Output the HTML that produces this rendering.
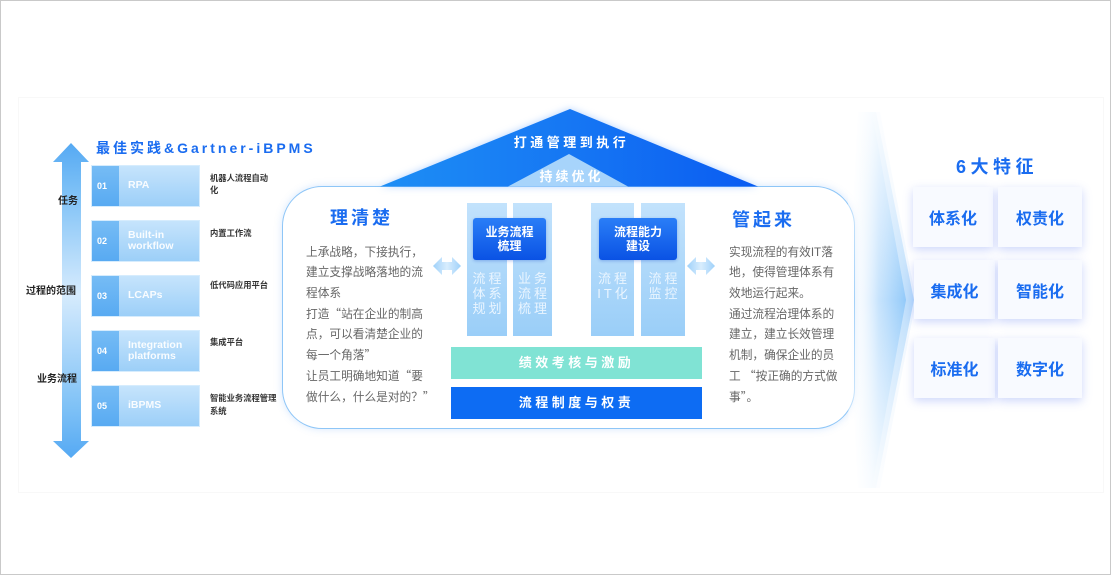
<!DOCTYPE html>
<html><head><meta charset="utf-8">
<style>
*{margin:0;padding:0;box-sizing:border-box}
html,body{width:1111px;height:575px;overflow:hidden;background:#fff}
body{position:relative;font-family:"Liberation Sans","Noto Sans CJK SC",sans-serif}
.abs{position:absolute}
.q{font-family:"Noto Sans CJK SC",sans-serif;line-height:0}
.frame{position:absolute;left:0;top:0;width:1111px;height:575px;border:1px solid #c9c9c9}
.slide{position:absolute;left:18px;top:97px;width:1086px;height:396px;border:1px solid #f8f8f8}
.title{position:absolute;left:96px;top:139px;font-size:14px;font-weight:bold;color:#1a6cf0;letter-spacing:3px;white-space:nowrap;line-height:18px}
.lbl{position:absolute;font-size:10px;font-weight:bold;color:#222;white-space:nowrap;line-height:12px;transform:translateX(-50%)}
.box{position:absolute;left:91px;width:109px;height:42px;background:linear-gradient(180deg,#c6e4fc,#9ccff8);border:1px solid #d6ecfd}
.box .num{position:absolute;left:0;top:0;width:27px;height:40px;background:linear-gradient(180deg,#76bcf5,#58aaf2);color:#fff;font-size:9px;font-weight:bold;padding-left:5px;line-height:40px}
.box .nm{position:absolute;left:36px;top:0;height:40px;display:flex;align-items:center;color:rgba(255,255,255,0.92);font-size:10.5px;font-weight:bold;line-height:11.5px}
.desc{position:absolute;left:210px;font-size:8.3px;font-weight:bold;color:#333;line-height:12px;white-space:nowrap}
.container{position:absolute;left:282px;top:186px;width:573px;height:243px;border:1px solid #8ec6f7;border-radius:40px;background:#fff;box-shadow:0 0 8px rgba(90,160,250,0.25)}
.hd{position:absolute;font-size:18px;font-weight:bold;color:#1a6cf0;letter-spacing:3px;line-height:22px;white-space:nowrap}
.body{position:absolute;font-size:11.7px;color:#666;line-height:20.7px;white-space:nowrap}
.pillar{position:absolute;top:203px;height:133px;background:linear-gradient(180deg,#c2e2fc,#9acef8)}
.ptxt{position:absolute;top:271px;height:48px;color:#eaf5ff;font-size:13px;line-height:15px;letter-spacing:3px;text-align:center;white-space:nowrap}
.dark{position:absolute;top:218px;height:42px;border-radius:3px;background:linear-gradient(180deg,#2a7ef7,#0a52e4);color:#fff;font-size:12px;font-weight:bold;line-height:14px;text-align:center;display:flex;align-items:center;justify-content:center;box-shadow:0 1px 3px rgba(0,60,200,0.3)}
.bar{position:absolute;left:451px;width:251px;height:32px;color:#fff;font-size:13px;font-weight:bold;letter-spacing:3.5px;text-align:center;line-height:32px;white-space:nowrap}
.card{position:absolute;background:#f8faff;box-shadow:0 3px 9px rgba(80,110,240,0.28);color:#1a6cf0;font-size:16px;font-weight:bold;display:flex;align-items:center;justify-content:center;white-space:nowrap}
</style></head><body>
<div class="frame"></div>
<div class="slide"></div>

<!-- vertical double arrow -->
<svg class="abs" style="left:0;top:0" width="120" height="470">
<defs><linearGradient id="va" x1="0" y1="143" x2="0" y2="458" gradientUnits="userSpaceOnUse">
<stop offset="0" stop-color="#55a9f3"/><stop offset="0.15" stop-color="#7cc0f6"/><stop offset="0.48" stop-color="#d6ebfd"/><stop offset="0.85" stop-color="#7cc0f6"/><stop offset="1" stop-color="#55a9f3"/></linearGradient></defs>
<polygon points="71,143 89,162 81,162 81,441 89,441 71,458 53,441 62,441 62,162 53,162" fill="url(#va)"/>
</svg>
<div class="lbl" style="left:68px;top:196px">任务</div>
<div class="lbl" style="left:51px;top:286px">过程的范围</div>
<div class="lbl" style="left:57px;top:374px">业务流程</div>

<div class="title">最佳实践&amp;Gartner-iBPMS</div>

<div class="box" style="top:165px"><div class="num">01</div><div class="nm">RPA</div></div>
<div class="box" style="top:220px"><div class="num">02</div><div class="nm">Built-in<br>workflow</div></div>
<div class="box" style="top:275px"><div class="num">03</div><div class="nm">LCAPs</div></div>
<div class="box" style="top:330px"><div class="num">04</div><div class="nm">Integration<br>platforms</div></div>
<div class="box" style="top:385px"><div class="num">05</div><div class="nm">iBPMS</div></div>

<div class="desc" style="top:172px">机器人流程自动<br>化</div>
<div class="desc" style="top:227px">内置工作流</div>
<div class="desc" style="top:279px">低代码应用平台</div>
<div class="desc" style="top:336px">集成平台</div>
<div class="desc" style="top:392px;line-height:13px">智能业务流程管理<br>系统</div>

<!-- main container -->
<div class="container"></div>

<!-- pyramid -->
<svg class="abs" style="left:0;top:0;filter:drop-shadow(0 0 4px rgba(40,130,255,0.35))" width="800" height="200">
<defs><linearGradient id="py" x1="380" y1="0" x2="758" y2="0" gradientUnits="userSpaceOnUse">
<stop offset="0" stop-color="#1d8ef5"/><stop offset="0.5" stop-color="#1677f3"/><stop offset="1" stop-color="#0a5cf2"/></linearGradient></defs>
<polygon points="570,109 758,186.5 380,186.5" fill="url(#py)"/>
<polygon points="569,154 628,186.5 508,186.5" fill="#a7d4fb"/>
</svg>
<div class="abs" style="left:470px;top:134px;width:200px;text-align:center;color:#fff;font-size:13px;font-weight:bold;letter-spacing:3.5px;line-height:18px;white-space:nowrap;padding-left:3px">打通管理到执行</div>
<div class="abs" style="left:500px;top:168px;width:140px;text-align:center;color:#fff;font-size:13px;font-weight:bold;letter-spacing:3px;line-height:18px;white-space:nowrap;padding-left:3px">持续优化</div>

<!-- left column -->
<div class="hd" style="left:330px;top:207px">理清楚</div>
<div class="body" style="left:306px;top:242.6px">上承战略，下接执行，<br>建立支撑战略落地的流<br>程体系<br>打造<span class="q">“</span>站在企业的制高<br>点，可以看清楚企业的<br>每一个角落<span class="q">”</span><br>让员工明确地知道<span class="q">“</span>要<br>做什么，什么是对的？<span class="q">”</span></div>

<!-- right column -->
<div class="hd" style="left:732px;top:209px">管起来</div>
<div class="body" style="left:729px;top:242.6px">实现流程的有效IT落<br>地，使得管理体系有<br>效地运行起来。<br>通过流程治理体系的<br>建立，建立长效管理<br>机制，确保企业的员<br>工 <span class="q">“</span>按正确的方式做<br>事<span class="q">”</span>。</div>

<!-- double arrows -->
<svg class="abs" style="left:433px;top:257px" width="28" height="18">
<defs><linearGradient id="da" x1="0" y1="0" x2="1" y2="0"><stop offset="0" stop-color="#9fd1fa"/><stop offset="0.5" stop-color="#d8edfd"/><stop offset="1" stop-color="#9fd1fa"/></linearGradient></defs>
<polygon points="0,9 9,0 9,5 19,5 19,0 28,9 19,18 19,13 9,13 9,18" fill="url(#da)"/></svg>
<svg class="abs" style="left:687px;top:257px" width="28" height="18">
<polygon points="0,9 9,0 9,5 19,5 19,0 28,9 19,18 19,13 9,13 9,18" fill="url(#da)"/></svg>

<!-- pillars -->
<div class="pillar" style="left:467px;width:40px"></div>
<div class="pillar" style="left:513px;width:39px"></div>
<div class="pillar" style="left:591px;width:43px"></div>
<div class="pillar" style="left:641px;width:44px"></div>
<div class="ptxt" style="left:467px;width:40px;padding-left:3px">流程<br>体系<br>规划</div>
<div class="ptxt" style="left:513px;width:39px;padding-left:3px">业务<br>流程<br>梳理</div>
<div class="ptxt" style="left:591px;width:43px;padding-left:3px">流程<br>IT化</div>
<div class="ptxt" style="left:641px;width:44px;padding-left:3px">流程<br>监控</div>
<div class="dark" style="left:473px;width:73px">业务流程<br>梳理</div>
<div class="dark" style="left:599px;width:78px">流程能力<br>建设</div>

<div class="bar" style="top:347px;background:#80e3d4">绩效考核与激励</div>
<div class="bar" style="top:387px;background:#0d6cf3">流程制度与权责</div>

<!-- chevron -->
<svg class="abs" style="left:0;top:0" width="1111" height="575">
<defs><linearGradient id="ch" x1="848" y1="0" x2="916" y2="0" gradientUnits="userSpaceOnUse">
<stop offset="0" stop-color="#ffffff" stop-opacity="0"/><stop offset="0.45" stop-color="#c8e4fd"/><stop offset="1" stop-color="#80c1f8"/></linearGradient>
<linearGradient id="chv" x1="0" y1="112" x2="0" y2="488" gradientUnits="userSpaceOnUse">
<stop offset="0" stop-color="#fff" stop-opacity="0.8"/><stop offset="0.5" stop-color="#fff" stop-opacity="0"/><stop offset="1" stop-color="#fff" stop-opacity="0.8"/></linearGradient></defs>
<polygon points="858,112 876,112 914,300 876,488 858,488 848,300" fill="url(#ch)"/>
<polygon points="872,112 880,112 916,300 880,488 872,488 906,300" fill="#e3f1fe" opacity="0.55"/>
<polygon points="850,110 884,110 920,300 884,490 850,490 846,300" fill="url(#chv)"/>
</svg>

<div class="abs" style="left:950px;top:155px;width:90px;text-align:center;color:#1a6cf0;font-size:18px;font-weight:bold;letter-spacing:4.5px;padding-left:4px;line-height:24px;white-space:nowrap">6大特征</div>
<div class="card" style="left:913px;top:187px;width:80px;height:60px">体系化</div>
<div class="card" style="left:998px;top:187px;width:84px;height:60px">权责化</div>
<div class="card" style="left:914px;top:260px;width:81px;height:59px">集成化</div>
<div class="card" style="left:998px;top:260px;width:84px;height:59px">智能化</div>
<div class="card" style="left:914px;top:338px;width:81px;height:60px">标准化</div>
<div class="card" style="left:998px;top:338px;width:84px;height:60px">数字化</div>
</body></html>
